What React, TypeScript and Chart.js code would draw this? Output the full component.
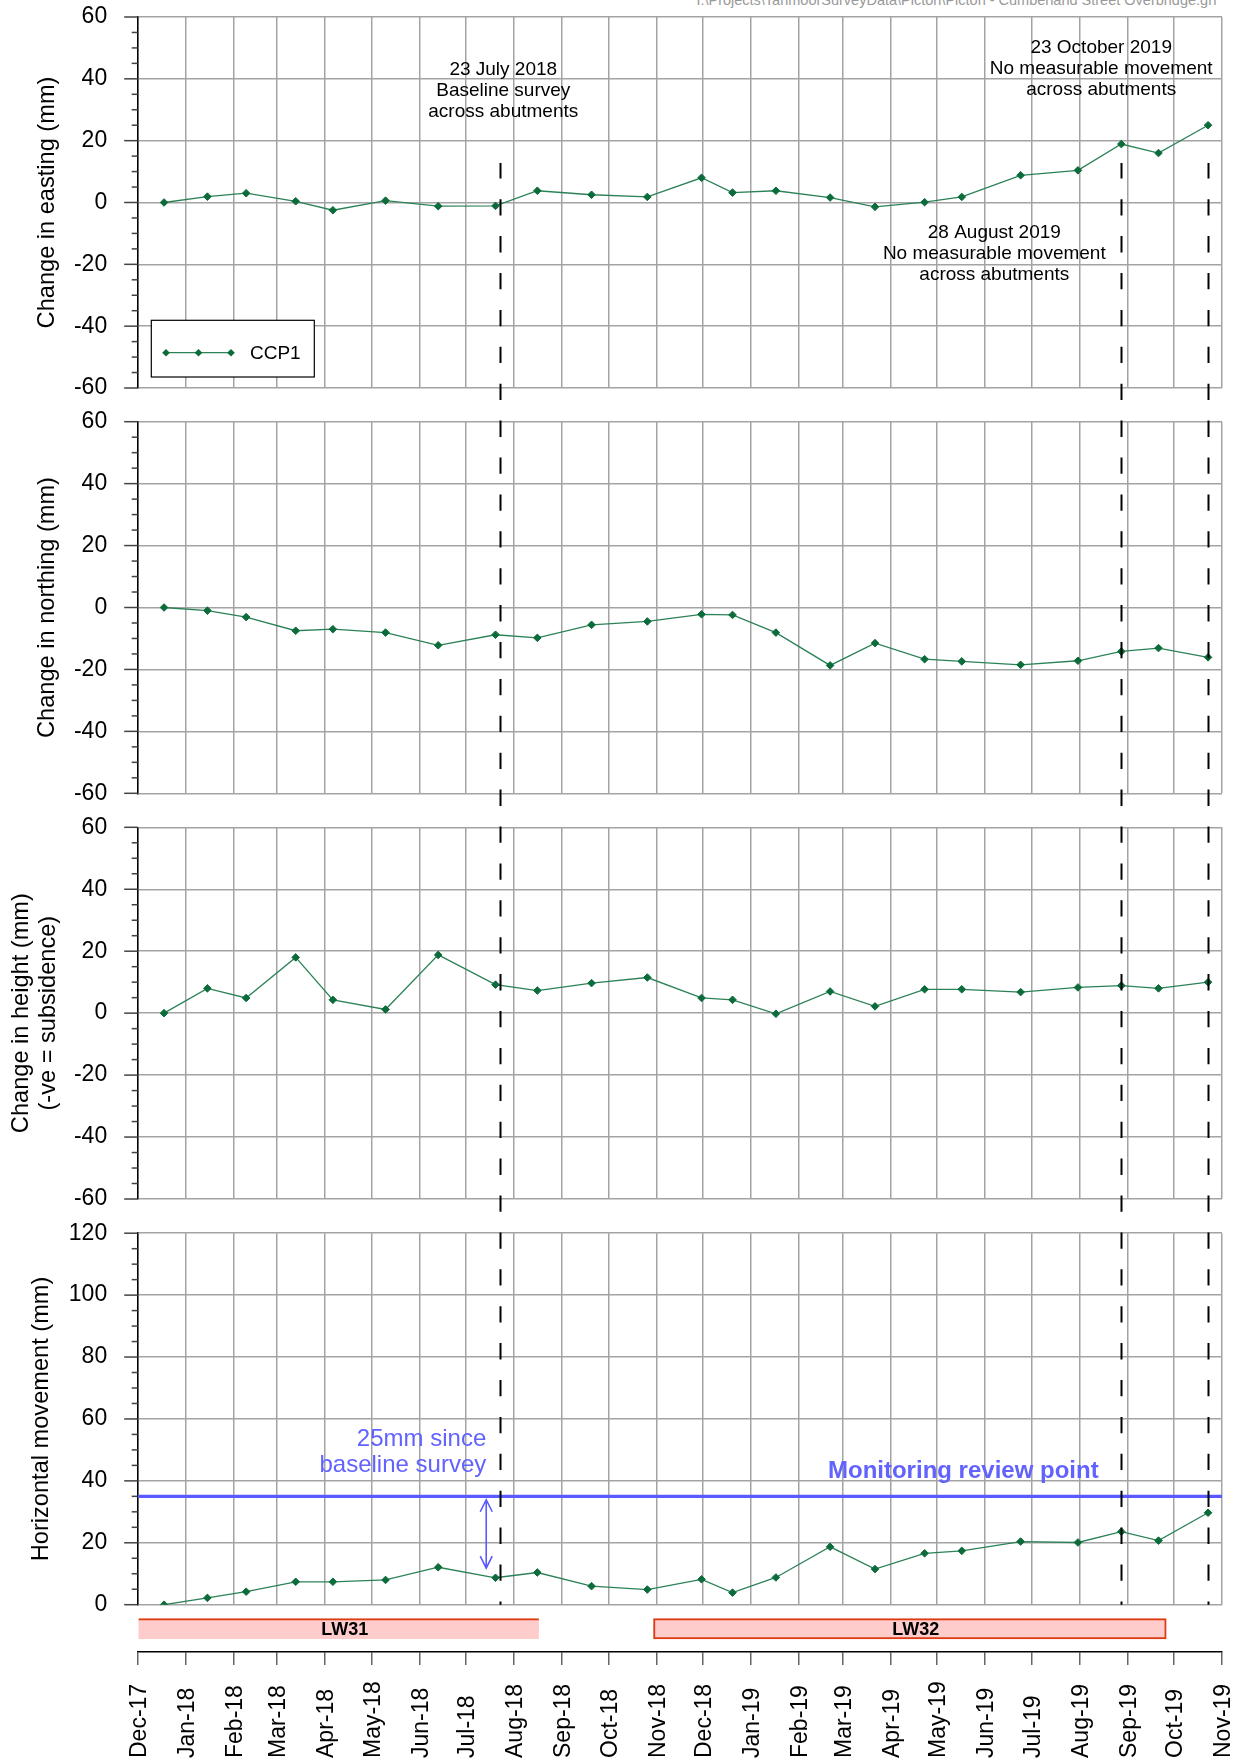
import React, { useEffect, useRef } from 'react';
import { Chart, registerables } from 'chart.js';

Chart.register(...registerables);

// ---------------- data ----------------
const surveyDates = [
  '2017-12-18', '2018-01-15', '2018-02-09', '2018-03-13', '2018-04-06', '2018-05-10',
  '2018-06-13', '2018-07-20', '2018-08-16', '2018-09-20', '2018-10-26', '2018-11-30',
  '2018-12-20', '2019-01-17', '2019-02-21', '2019-03-22', '2019-04-23', '2019-05-17',
  '2019-06-24', '2019-07-31', '2019-08-28', '2019-09-21', '2019-10-23',
];
const eastingChange = [0, 1.9, 3.0, 0.4, -2.5, 0.6, -1.2, -1.1, 3.8, 2.5, 1.8, 8.0, 3.2, 3.8, 1.6, -1.4, 0.1, 1.8, 8.8, 10.4, 18.9, 16.0, 25.0];
const northingChange = [0, -1.0, -3.1, -7.5, -7.0, -8.1, -12.2, -8.8, -9.8, -5.6, -4.5, -2.2, -2.4, -8.1, -18.7, -11.5, -16.7, -17.4, -18.5, -17.2, -14.2, -13.1, -16.1];
const heightChange = [0, 8.0, 4.9, 18.0, 4.3, 1.2, 18.8, 9.2, 7.3, 9.7, 11.5, 4.9, 4.3, -0.2, 7.0, 2.2, 7.7, 7.7, 6.8, 8.3, 8.9, 8.0, 10.0];
const horizontalMovement = [0, 2.2, 4.2, 7.4, 7.4, 8.0, 12.1, 8.7, 10.4, 6.0, 4.9, 8.2, 3.9, 8.8, 18.7, 11.5, 16.6, 17.4, 20.4, 20.1, 23.6, 20.7, 29.7];
const seriesLabel = 'CCP1';

const monthTickDates = [
  '2017-12-01', '2018-01-01', '2018-02-01', '2018-03-01', '2018-04-01', '2018-05-01',
  '2018-06-01', '2018-07-01', '2018-08-01', '2018-09-01', '2018-10-01', '2018-11-01',
  '2018-12-01', '2019-01-01', '2019-02-01', '2019-03-01', '2019-04-01', '2019-05-01',
  '2019-06-01', '2019-07-01', '2019-08-01', '2019-09-01', '2019-10-01', '2019-11-01',
];
const monthTickLabels = [
  'Dec-17', 'Jan-18', 'Feb-18', 'Mar-18', 'Apr-18', 'May-18', 'Jun-18', 'Jul-18',
  'Aug-18', 'Sep-18', 'Oct-18', 'Nov-18', 'Dec-18', 'Jan-19', 'Feb-19', 'Mar-19',
  'Apr-19', 'May-19', 'Jun-19', 'Jul-19', 'Aug-19', 'Sep-19', 'Oct-19', 'Nov-19',
];

const surveyEventDates = ['2018-07-23', '2019-08-28', '2019-10-23'];
const monitoringReviewPoint = 35;
const monitoringReviewLabel = 'Monitoring review point';

const longwallNames = ['LW31', 'LW32'];
const longwallStart = ['2017-12-01', '2018-10-30'];
const longwallEnd = ['2018-08-17', '2019-09-26'];

const eastingNotes = [
  { date: '2018-07-25', value: 41.3, lines: ['23 July 2018', 'Baseline survey', 'across abutments'] },
  { date: '2019-08-15', value: 48.5, lines: ['23 October 2019', 'No measurable movement', 'across abutments'] },
  { date: '2019-06-07', value: -11.5, lines: ['28 August 2019', 'No measurable movement', 'across abutments'] },
];
const baselineNote = { date: '2018-07-14', value: 51.3, lines: ['25mm since', 'baseline survey'] };
const reviewNote = { date: '2019-05-18', value: 40.8, lines: [monitoringReviewLabel] };
const baselineArrow = { date: '2018-07-14', from: 33.9, to: 11.8 };

const pathText = 'I:\\Projects\\TahmoorSurveyData\\Picton\\Picton - Cumberland Street Overbridge.grf';

// ---------------- layout & style ----------------
const W = 1239;
const H = 1763;
const FONT = '"Liberation Sans", Arial, Helvetica, sans-serif';
const PLOT_LEFT = 137.7;
const PLOT_RIGHT = 1222;
const GAP_HALF = 16.9;
const DASH = [16.3, 20.6];
const DASH_ORIGIN_Y = 162.3;
const GRID = '#a3a3a3';
const GREEN = '#0b6b3a';
const GREEN_LINE = '#2c8257';
const BLUE = '#5a5aff';
const BLUE_TEXT = '#6262ff';
const LW_FILL = '#ffcccc';
const LW_BORDER = '#dd3a10';
const LW_ROW = 0.51;
const LABEL_GAP = 30.5; // tick-mark + padding distance from axis to label edge

Chart.defaults.font.family = FONT;

const ORIGIN = Date.UTC(2017, 11, 1);
const dayOf = (s: string) => {
  const [y, m, d] = s.split('-').map(Number);
  return (Date.UTC(y, m - 1, d) - ORIGIN) / 86400000;
};
const monthDays = monthTickDates.map(dayOf);
const X_MIN = monthDays[0];
const X_MAX = monthDays[monthDays.length - 1];

const PANELS = [
  { values: eastingChange, title: 'Change in easting (mm)', min: -60, max: 60 },
  { values: northingChange, title: 'Change in northing (mm)', min: -60, max: 60 },
  { values: heightChange, title: ['Change in height (mm)', '(-ve = subsidence)'], min: -60, max: 60 },
  { values: horizontalMovement, title: 'Horizontal movement (mm)', min: 0, max: 120 },
];
const PANEL_LAYOUT = [
  { top: 17, bottom: 388, titlePad: 33.2, titleLH: 1.2 },
  { top: 421.7, bottom: 793.3, titlePad: 33.2, titleLH: 1.2 },
  { top: 827.3, bottom: 1199, titlePad: 8.3, titleLH: 1.14 },
  { top: 1233.2, bottom: 1604.7, titlePad: 27.3, titleLH: 1.2 },
];

// ---------------- plugins ----------------
const panelDecor = {
  id: 'panelDecor',
  afterDatasetsDraw(chart: any, _args: any, opts: any) {
    const { ctx, chartArea: ca } = chart;
    const x = chart.scales.x;
    const y = chart.scales.y;
    ctx.save();
    // y tick marks: long at every 20, short at every 5
    ctx.strokeStyle = '#444';
    ctx.lineWidth = 1.5;
    for (let v = y.min; v <= y.max; v += 5) {
      const major = v % 20 === 0;
      const py = y.getPixelForValue(v);
      ctx.beginPath();
      ctx.moveTo(ca.left - (major ? 13.5 : 6), py);
      ctx.lineTo(ca.left, py);
      ctx.stroke();
    }
    // dashed survey event lines
    const y1 = opts.dashFrom != null ? y.getPixelForValue(opts.dashFrom) : ca.top - GAP_HALF;
    const y2 = opts.dashEndAtBottom ? ca.bottom : ca.bottom + GAP_HALF;
    ctx.setLineDash(DASH);
    ctx.lineDashOffset = y1 - DASH_ORIGIN_Y;
    ctx.strokeStyle = '#000';
    ctx.lineWidth = 2;
    surveyEventDates.forEach((d) => {
      const px = Math.round(x.getPixelForValue(dayOf(d))) + 0.5;
      ctx.beginPath();
      ctx.moveTo(px, y1);
      ctx.lineTo(px, y2);
      ctx.stroke();
    });
    ctx.setLineDash([]);

    // text notes
    (opts.notes || []).forEach((n: any) => {
      ctx.font = n.font;
      ctx.fillStyle = n.color;
      ctx.textAlign = n.align;
      ctx.textBaseline = 'alphabetic';
      const px = x.getPixelForValue(dayOf(n.note.date));
      let py = y.getPixelForValue(n.note.value);
      n.note.lines.forEach((line: string) => {
        ctx.fillText(line, px, py);
        py += n.gap;
      });
    });

    // double arrow
    if (opts.arrow) {
      const a = opts.arrow;
      const px = x.getPixelForValue(dayOf(a.date));
      const pt = y.getPixelForValue(a.from);
      const pb = y.getPixelForValue(a.to);
      ctx.strokeStyle = BLUE;
      ctx.lineWidth = 1.6;
      ctx.beginPath();
      ctx.moveTo(px, pt);
      ctx.lineTo(px, pb);
      ctx.moveTo(px - 6, pt + 12);
      ctx.lineTo(px, pt);
      ctx.lineTo(px + 6, pt + 12);
      ctx.moveTo(px - 6, pb - 12);
      ctx.lineTo(px, pb);
      ctx.lineTo(px + 6, pb - 12);
      ctx.stroke();
    }

    // legend box
    if (opts.legend) {
      const ds = chart.data.datasets[0];
      const bl = ca.left + 13.6;
      const bt = ca.bottom - 67.7;
      const bw = 163;
      const bh = 56.7;
      ctx.fillStyle = '#fff';
      ctx.fillRect(bl, bt, bw, bh);
      ctx.strokeStyle = '#000';
      ctx.lineWidth = 1.2;
      ctx.strokeRect(bl, bt, bw, bh);
      const ly = ca.bottom - 35.3;
      const lx0 = ca.left + 28.3;
      const lx1 = ca.left + 93.3;
      ctx.strokeStyle = ds.borderColor;
      ctx.lineWidth = ds.borderWidth;
      ctx.beginPath();
      ctx.moveTo(lx0, ly);
      ctx.lineTo(lx1, ly);
      ctx.stroke();
      ctx.fillStyle = ds.pointBackgroundColor;
      [lx0, (lx0 + lx1) / 2, lx1].forEach((mx) => {
        const r = ds.pointRadius;
        ctx.beginPath();
        ctx.moveTo(mx, ly - r);
        ctx.lineTo(mx + r, ly);
        ctx.lineTo(mx, ly + r);
        ctx.lineTo(mx - r, ly);
        ctx.closePath();
        ctx.fill();
      });
      ctx.fillStyle = '#000';
      ctx.font = `19px ${FONT}`;
      ctx.textAlign = 'left';
      ctx.textBaseline = 'alphabetic';
      ctx.fillText(ds.label, ca.left + 112.3, ca.bottom - 28.7);
    }
    ctx.restore();
  },
};

const axisDecor = {
  id: 'axisDecor',
  afterDatasetsDraw(chart: any) {
    const { ctx } = chart;
    const meta = chart.getDatasetMeta(0);
    ctx.save();
    ctx.fillStyle = '#000';
    ctx.font = `bold 18px ${FONT}`;
    ctx.textAlign = 'center';
    ctx.textBaseline = 'middle';
    meta.data.forEach((el: any, i: number) => {
      const cx = (el.x + el.base) / 2 + 6;
      ctx.fillText(longwallNames[i], cx, el.y + 1.5);
    });
    ctx.restore();
  },
  afterDraw(chart: any) {
    const { ctx } = chart;
    const x = chart.scales.x;
    ctx.save();
    ctx.fillStyle = '#000';
    ctx.font = `23px ${FONT}`;
    ctx.textAlign = 'left';
    ctx.textBaseline = 'middle';
    x.ticks.forEach((t: any, i: number) => {
      const px = x.getPixelForValue(t.value);
      ctx.save();
      ctx.translate(px + 2, 1758);
      ctx.rotate(-Math.PI / 2);
      ctx.fillText(monthTickLabels[i], 0, 0);
      ctx.restore();
    });
    ctx.restore();
  },
};

// ---------------- configs ----------------
function monthTicks(scale: any) {
  scale.ticks = monthDays.map((v) => ({ value: v }));
}

function panelConfig(i: number): any {
  const p = PANELS[i];
  const L = PANEL_LAYOUT[i];
  const datasets: any[] = [
    {
      label: seriesLabel,
      data: surveyDates.map((d, k) => ({ x: dayOf(d), y: p.values[k] })),
      borderColor: GREEN_LINE,
      borderWidth: 1.3,
      pointStyle: 'rectRot',
      pointRadius: 3.8,
      pointBackgroundColor: GREEN,
      pointBorderColor: GREEN,
      pointBorderWidth: 1,
      tension: 0,
      fill: false,
    },
  ];
  let notes: any[] = [];
  let arrow: any = null;
  if (i === 0) {
    notes = eastingNotes.map((note) => ({ note, font: `19px ${FONT}`, color: '#000', align: 'center', gap: 21.2 }));
  }
  if (i === 3) {
    datasets.push({
      label: monitoringReviewLabel,
      data: [
        { x: X_MIN, y: monitoringReviewPoint },
        { x: X_MAX, y: monitoringReviewPoint },
      ],
      borderColor: BLUE,
      borderWidth: 3.2,
      pointRadius: 0,
      fill: false,
    });
    notes = [
      { note: baselineNote, font: `24px ${FONT}`, color: BLUE_TEXT, align: 'right', gap: 26.3 },
      { note: reviewNote, font: `bold 24px ${FONT}`, color: BLUE_TEXT, align: 'center', gap: 0 },
    ];
    arrow = baselineArrow;
  }
  return {
    type: 'line',
    data: { datasets },
    options: {
      responsive: false,
      animation: false,
      devicePixelRatio: 1,
      events: [],
      layout: { padding: { top: L.top, bottom: H - L.bottom, left: 0, right: W - PLOT_RIGHT } },
      plugins: {
        legend: { display: false },
        tooltip: { enabled: false },
        panelDecor: {
          dashFrom: i === 0 ? 12.8 : null,
          dashEndAtBottom: i === 3,
          notes,
          arrow,
          legend: i === 0,
        },
      },
      scales: {
        x: {
          type: 'linear',
          min: X_MIN,
          max: X_MAX,
          afterBuildTicks: monthTicks,
          ticks: { display: false },
          grid: { color: GRID, lineWidth: 1.5, drawTicks: false },
          border: { display: false },
          afterFit: (s: any) => {
            s.height = 0;
          },
        },
        y: {
          type: 'linear',
          min: p.min,
          max: p.max,
          ticks: { stepSize: 20, font: { size: 23 }, color: '#000', padding: 0 },
          grid: { color: GRID, lineWidth: 1.5, tickLength: LABEL_GAP, tickColor: 'rgba(0,0,0,0)' },
          border: { color: '#000', width: 1.5 },
          title: {
            display: true,
            text: p.title,
            color: '#000',
            font: { size: 23.6, lineHeight: L.titleLH },
            padding: { top: L.titlePad, bottom: 0 },
          },
          afterFit: (s: any) => {
            s.width = PLOT_LEFT;
          },
        },
      },
    },
    plugins: [panelDecor],
  };
}

function axisConfig(): any {
  return {
    type: 'bar',
    data: {
      datasets: [
        {
          label: 'Longwall',
          data: longwallNames.map((_, k) => ({ x: [dayOf(longwallStart[k]), dayOf(longwallEnd[k])], y: LW_ROW })),
          backgroundColor: LW_FILL,
          borderColor: LW_BORDER,
          borderWidth: (c: any) => (c.dataIndex === 0 ? { top: 2, right: 0, bottom: 0, left: 0 } : 2),
          borderSkipped: false,
          barThickness: 20.4,
        },
      ],
    },
    options: {
      indexAxis: 'y',
      responsive: false,
      animation: false,
      devicePixelRatio: 1,
      events: [],
      layout: { padding: { top: 1606, bottom: H - 1652 - 13, left: PLOT_LEFT, right: W - PLOT_RIGHT } },
      plugins: { legend: { display: false }, tooltip: { enabled: false } },
      scales: {
        x: {
          type: 'linear',
          position: 'bottom',
          min: X_MIN,
          max: X_MAX,
          afterBuildTicks: monthTicks,
          ticks: { display: false },
          grid: { drawOnChartArea: false, drawTicks: true, tickLength: 13, tickColor: '#666', lineWidth: 1.5 },
          border: { color: '#000', width: 1.5 },
          afterFit: (s: any) => {
            s.height = 13;
          },
        },
        y: { type: 'linear', min: 0, max: 1, display: false },
      },
    },
    plugins: [axisDecor],
  };
}

export default function App() {
  const canvases = useRef<(HTMLCanvasElement | null)[]>([]);
  useEffect(() => {
    document.body.style.margin = '0';
    const charts: Chart[] = [];
    for (let i = 0; i < 4; i++) {
      charts.push(new Chart(canvases.current[i] as HTMLCanvasElement, panelConfig(i)));
    }
    charts.push(new Chart(canvases.current[4] as HTMLCanvasElement, axisConfig()));
    return () => charts.forEach((c) => c.destroy());
  }, []);
  return (
    <div style={{ position: 'relative', width: W, height: H, overflow: 'hidden', background: '#fff' }}>
      <div
        style={{
          position: 'absolute',
          top: -8,
          right: W - 1217,
          fontFamily: FONT,
          fontSize: 14.5,
          color: '#999',
          whiteSpace: 'nowrap',
        }}
      >
        {pathText}
      </div>
      {[0, 1, 2, 3, 4].map((i) => (
        <canvas
          key={i}
          ref={(el) => {
            canvases.current[i] = el;
          }}
          width={W}
          height={H}
          style={{ position: 'absolute', left: 0, top: 0, width: W, height: H }}
        />
      ))}
    </div>
  );
}
